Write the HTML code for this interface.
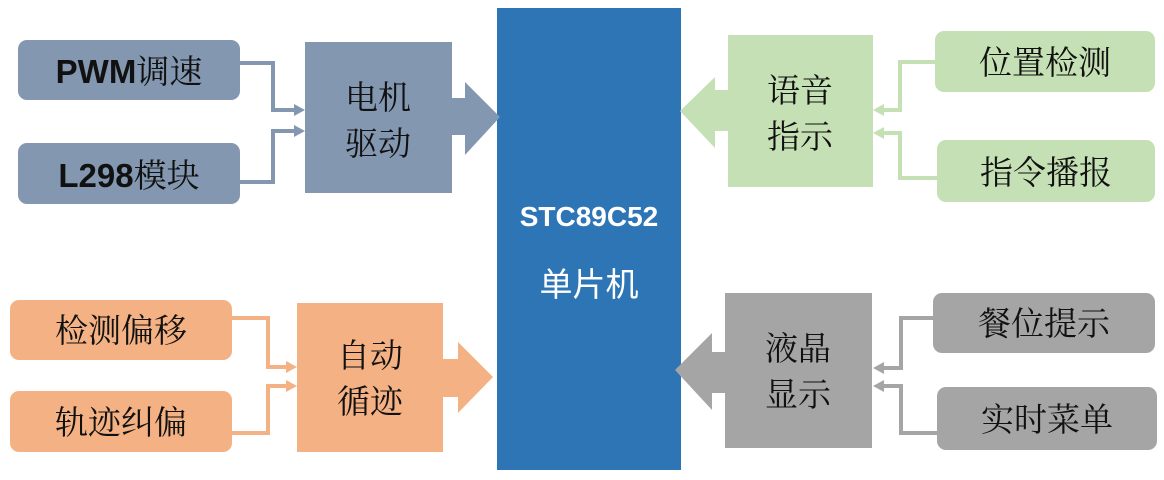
<!DOCTYPE html>
<html><head><meta charset="utf-8"><style>
body{margin:0;background:#fff}
text{font-family:"Liberation Serif","Noto Serif CJK SC",serif;font-size:33px;fill:#111}
.b{font-family:"Liberation Sans","Noto Sans CJK SC",sans-serif;font-weight:bold}
</style></head><body>
<svg width="1164" height="475" viewBox="0 0 1164 475" xmlns="http://www.w3.org/2000/svg">
<!-- center -->
<rect x="497" y="8" width="184" height="462" fill="#2e75b6"/>
<text x="589" y="226" text-anchor="middle" class="b" style="fill:#fff;font-size:28px">STC89C52</text>
<text x="589" y="296" text-anchor="middle" style="fill:#fff;font-size:33px;font-family:'Liberation Sans','Noto Sans CJK SC',sans-serif">单片机</text>

<!-- top left blue-gray -->
<g fill="#8497b0">
<rect x="18" y="40" width="222" height="60" rx="9"/>
<rect x="18" y="143" width="222" height="61" rx="9"/>
<rect x="305" y="42" width="147" height="151"/>
<path d="M452,98H465V82L500,117L465,155V135H452z"/>
</g>
<g fill="none" stroke="#8497b0" stroke-width="4">
<path d="M240,63H273V110H296"/><path d="M240,182H273V131H296"/>
</g>
<path d="M294,104L305,110L294,116z M294,125L305,131L294,137z" fill="#8497b0"/>
<text x="129" y="83" text-anchor="middle"><tspan class="b">PWM</tspan>调速</text>
<text x="129" y="187" text-anchor="middle"><tspan class="b">L298</tspan>模块</text>
<text x="378" y="109" text-anchor="middle">电机</text>
<text x="378" y="155" text-anchor="middle">驱动</text>

<!-- top right green -->
<g fill="#c5e0b4">
<rect x="935" y="31" width="220" height="61" rx="9"/>
<rect x="937" y="140" width="218" height="62" rx="9"/>
<rect x="728" y="35" width="145" height="152"/>
<path d="M728,90H715V77L680,111L715,148V131H728z"/>
</g>
<g fill="none" stroke="#c5e0b4" stroke-width="4">
<path d="M935,62H900V110H882"/><path d="M937,178H900V133H882"/>
</g>
<path d="M884,104L873,110L884,116z M884,127L873,133L884,139z" fill="#c5e0b4"/>
<text x="1045" y="74" text-anchor="middle">位置检测</text>
<text x="1046" y="184" text-anchor="middle">指令播报</text>
<text x="800" y="102" text-anchor="middle">语音</text>
<text x="800" y="148" text-anchor="middle">指示</text>

<!-- bottom left orange -->
<g fill="#f4b183">
<rect x="10" y="300" width="222" height="60" rx="9"/>
<rect x="10" y="391" width="222" height="61" rx="9"/>
<rect x="297" y="303" width="146" height="149"/>
<path d="M443,359H458V342L493,377L458,413V397H443z"/>
</g>
<g fill="none" stroke="#f4b183" stroke-width="4">
<path d="M232,318H268V367H288"/><path d="M232,433H268V386H288"/>
</g>
<path d="M286,361L297,367L286,373z M286,380L297,386L286,392z" fill="#f4b183"/>
<text x="121" y="342" text-anchor="middle">检测偏移</text>
<text x="121" y="434" text-anchor="middle">轨迹纠偏</text>
<text x="370" y="367" text-anchor="middle">自动</text>
<text x="370" y="413" text-anchor="middle">循迹</text>

<!-- bottom right gray -->
<g fill="#a6a5a5">
<rect x="933" y="293" width="222" height="60" rx="9"/>
<rect x="937" y="387" width="220" height="63" rx="9"/>
<rect x="725" y="293" width="147" height="155"/>
<path d="M725,352H712V333L675,370L712,410V393H725z"/>
</g>
<g fill="none" stroke="#a6a5a5" stroke-width="4">
<path d="M933,318H901V368H882"/><path d="M937,433H901V386H882"/>
</g>
<path d="M884,362L873,368L884,374z M884,380L873,386L884,392z" fill="#a6a5a5"/>
<text x="1044" y="335" text-anchor="middle">餐位提示</text>
<text x="1047" y="431" text-anchor="middle">实时菜单</text>
<text x="798" y="360" text-anchor="middle">液晶</text>
<text x="798" y="406" text-anchor="middle">显示</text>
</svg>
</body></html>
